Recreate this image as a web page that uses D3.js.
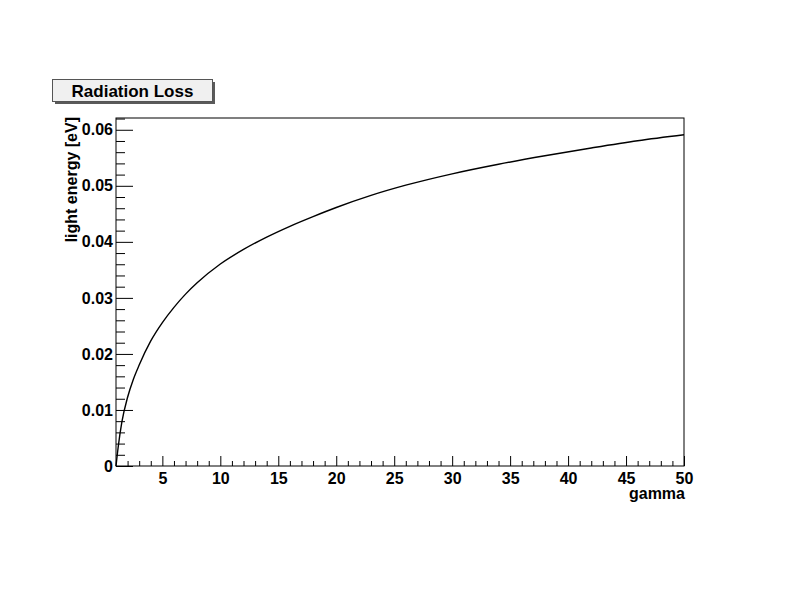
<!DOCTYPE html>
<html>
<head>
<meta charset="utf-8">
<script src="https://cdn.jsdelivr.net/npm/d3@7"></script>
<style>
  html, body { margin: 0; padding: 0; background: #fff; }
  svg { display: block; }
  text { font-family: "Liberation Sans", Arial, sans-serif; font-weight: bold; fill: #000; }
</style>
</head>
<body>
<svg id="chart" width="800" height="600"></svg>
<script>
// ---- data ----
const gammaValues = [1, 1.2, 1.5, 2, 2.5, 3, 4, 5, 6, 7, 8, 10, 12, 14, 16, 18, 20, 23, 26, 30, 34, 38, 42, 46, 50];
const energyValues = [0, 0.00357, 0.00779, 0.01227, 0.01549, 0.01802, 0.02232, 0.02559, 0.02831, 0.03067, 0.03269, 0.03604, 0.03864, 0.04085, 0.04278, 0.04451, 0.04613, 0.04829, 0.05011, 0.05214, 0.05385, 0.05536, 0.05675, 0.05804, 0.05911];
const xMajorTicks = [5, 10, 15, 20, 25, 30, 35, 40, 45, 50];
const yMajorTicks = [0, 0.01, 0.02, 0.03, 0.04, 0.05, 0.06];
const yTickLabels = ["0", "0.01", "0.02", "0.03", "0.04", "0.05", "0.06"];
const titleText = "Radiation Loss";
const xTitle = "gamma";
const yTitle = "light energy [eV]";

(function () {
const svg = d3.select("#chart");
const pLeft = 116, pRight = 684, pTop = 118, pBottom = 466;

const x = d3.scaleLinear().domain([1, 50]).range([pLeft, pRight]);
const y = d3.scaleLinear().domain([0, 0.0621]).range([pBottom, pTop]);

// minor ticks
const xMinor = d3.range(2, 51, 1).filter(v => v % 5 !== 0);
const yMinor = d3.range(0, 63, 2).map(v => v / 1000).filter(v => Math.round(v * 1000) % 10 !== 0 && v <= 0.0621);

// x axis
const gx = svg.append("g").attr("transform", `translate(0,${pBottom})`);
gx.call(d3.axisBottom(x).tickValues(xMajorTicks).tickSizeInner(-10).tickSizeOuter(0).tickPadding(18).tickFormat(d3.format("d")));
const gxm = svg.append("g").attr("transform", `translate(0,${pBottom})`);
gxm.call(d3.axisBottom(x).tickValues(xMinor).tickSizeInner(-5).tickSizeOuter(0).tickFormat(""));

// y axis
const gy = svg.append("g").attr("transform", `translate(${pLeft},0)`);
gy.call(d3.axisLeft(y).tickValues(yMajorTicks).tickSizeInner(-17).tickSizeOuter(0).tickPadding(3)
  .tickFormat((d, i) => yTickLabels[i]));
const gym = svg.append("g").attr("transform", `translate(${pLeft},0)`);
gym.call(d3.axisLeft(y).tickValues(yMinor).tickSizeInner(-9).tickSizeOuter(0).tickFormat(""));

svg.selectAll(".domain").remove();
svg.selectAll(".tick line").attr("stroke", "#000").attr("stroke-width", 1);
svg.selectAll(".tick text").attr("font-size", 16).attr("font-family", "Liberation Sans, Arial, sans-serif").attr("font-weight", "bold").attr("fill", "#000");
gx.selectAll(".tick text").attr("dy", "0").attr("y", 18);

// frame
svg.append("rect").attr("x", pLeft).attr("y", pTop).attr("width", pRight - pLeft).attr("height", pBottom - pTop)
  .attr("fill", "none").attr("stroke", "#000").attr("stroke-width", 1);

// curve
const pts = gammaValues.map((g, i) => [g, energyValues[i]]);
svg.append("path").datum(pts)
  .attr("fill", "none").attr("stroke", "#000").attr("stroke-width", 1.4)
  .attr("d", d3.line().x(d => x(d[0])).y(d => y(d[1])).curve(d3.curveMonotoneX));

// axis titles
svg.append("text").attr("x", pRight + 1).attr("y", 499).attr("text-anchor", "end").attr("font-size", 16).text(xTitle);
svg.append("text").attr("transform", `translate(77,${pTop - 1}) rotate(-90)`).attr("text-anchor", "end").attr("font-size", 16).text(yTitle);

// title box
const tb = svg.append("g");
tb.append("rect").attr("x", 55).attr("y", 82).attr("width", 160).attr("height", 22).attr("fill", "#5a5a5a");
tb.append("rect").attr("x", 52.5).attr("y", 79.5).attr("width", 160).attr("height", 22).attr("fill", "#f0f0f0").attr("stroke", "#555").attr("stroke-width", 1);
tb.append("text").attr("x", 132.5).attr("y", 97).attr("text-anchor", "middle").attr("font-size", 17).text(titleText);
})();
</script>
</body>
</html>
